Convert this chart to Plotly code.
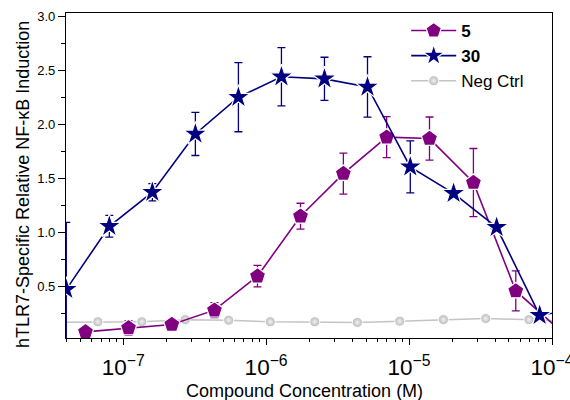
import plotly.graph_objects as go

# ---- data ----
x_30 = [4.0e-8, 8.0e-8, 1.6e-7, 3.2e-7, 6.4e-7, 1.28e-6, 2.56e-6, 5.12e-6, 1.02e-5, 2.05e-5, 4.1e-5, 8.2e-5, 1.64e-4]
y_30 = [0.47, 1.055, 1.37, 1.91, 2.25, 2.44, 2.42, 2.345, 1.605, 1.36, 1.045, 0.23, 0.30]
e_30 = [0.62, 0.10, 0.08, 0.20, 0.32, 0.27, 0.20, 0.28, 0.24, 0.03, 0.03, 0.03, 0.03]

x_5 = [5.45e-8, 1.09e-7, 2.19e-7, 4.35e-7, 8.7e-7, 1.74e-6, 3.47e-6, 6.97e-6, 1.39e-5, 2.82e-5, 5.58e-5, 1.12e-4]
y_5 = [0.077, 0.114, 0.145, 0.278, 0.593, 1.148, 1.543, 1.88, 1.867, 1.46, 0.456, 0.10]
e_5 = [0.03, 0.066, 0.04, 0.07, 0.10, 0.12, 0.19, 0.19, 0.20, 0.315, 0.185, 0.05]

x_neg = [3.35e-8, 6.65e-8, 1.35e-7, 2.72e-7, 5.47e-7, 1.07e-6, 2.19e-6, 4.35e-6, 8.6e-6, 1.74e-5, 3.44e-5, 6.9e-5, 1.38e-4]
y_neg = [0.165, 0.17, 0.17, 0.19, 0.185, 0.17, 0.17, 0.164, 0.176, 0.19, 0.20, 0.19, 0.17]

names = ["<b>5</b>", "<b>30</b>", "Neg Ctrl"]
x_title = "Compound Concentration (M)"
y_title = "hTLR7-Specific Relative NF-κB Induction"
PURPLE = "#800080"
NAVY = "#000080"
GRAY = "#c4c4c4"
FONT = "Liberation Sans, Arial, sans-serif"

fig = go.Figure()

fig.add_trace(go.Scatter(
    x=x_neg, y=y_neg, name=names[2], mode="lines+markers", legendrank=3,
    line=dict(color=GRAY, width=1.5),
    marker=dict(symbol="circle", size=10, color="#b8b8b8",
                gradient=dict(type="radial", color="#f2f2f2"),
                line=dict(color="white", width=1)),
))
fig.add_trace(go.Scatter(
    x=x_5, y=y_5, name=names[0], mode="lines+markers", legendrank=1,
    line=dict(color=PURPLE, width=1.6),
    marker=dict(symbol="pentagon", size=17, color=PURPLE,
                line=dict(color="white", width=1.2)),
    error_y=dict(type="data", array=e_5, visible=True, color=PURPLE,
                 thickness=1.3, width=4),
))
fig.add_trace(go.Scatter(
    x=x_30, y=y_30, name=names[1], mode="lines+markers", legendrank=2,
    line=dict(color=NAVY, width=1.6),
    marker=dict(symbol="star", size=18, color=NAVY,
                line=dict(color="white", width=1.2)),
    error_y=dict(type="data", array=e_30, visible=True, color=NAVY,
                 thickness=1.3, width=4),
))

fig.update_layout(
    width=570, height=400,
    margin=dict(l=66, r=18, t=13, b=62),
    paper_bgcolor="white", plot_bgcolor="white",
    font=dict(family=FONT, color="black"),
    showlegend=True,
    legend=dict(x=0.70, y=1.0, xanchor="left", yanchor="top",
                bgcolor="rgba(0,0,0,0)", borderwidth=0,
                font=dict(size=17, family=FONT),
                itemwidth=45),
    xaxis=dict(
        type="log", range=[-7.4, -4.0], automargin=False,
        showline=True, linecolor="black", linewidth=1.3, mirror=True,
        showgrid=False, zeroline=False,
        ticks="outside", ticklen=6, tickwidth=1.2, tickcolor="black",
        dtick=1, exponentformat="power", ticklabelstandoff=4,
        ticklabeloverflow="allow",
        tickfont=dict(size=18, family=FONT),
        minor=dict(ticks="outside", ticklen=3, tickwidth=1, tickcolor="black", showgrid=False),
    ),
    yaxis=dict(
        range=[0.02, 3.03], automargin=False,
        showline=True, linecolor="black", linewidth=1.3, mirror=True,
        showgrid=False, zeroline=False,
        ticks="outside", ticklen=7, tickwidth=1.2, tickcolor="black",
        tick0=0.5, dtick=0.5, tickformat=".1f",
        tickfont=dict(size=13, family=FONT),
        minor=dict(ticks="outside", ticklen=4, tickwidth=1, tickcolor="black", dtick=0.25, showgrid=False),
    ),
    annotations=[
        dict(text=y_title, textangle=-90, showarrow=False,
             xref="paper", yref="paper", x=-0.0885, y=0.474,
             xanchor="center", yanchor="middle",
             font=dict(size=18, family=FONT)),
        dict(text=x_title, showarrow=False,
             xref="paper", yref="paper", x=0.49, y=-0.163,
             xanchor="center", yanchor="middle",
             font=dict(size=18, family=FONT)),
    ],
)

fig.write_html("out.html")
